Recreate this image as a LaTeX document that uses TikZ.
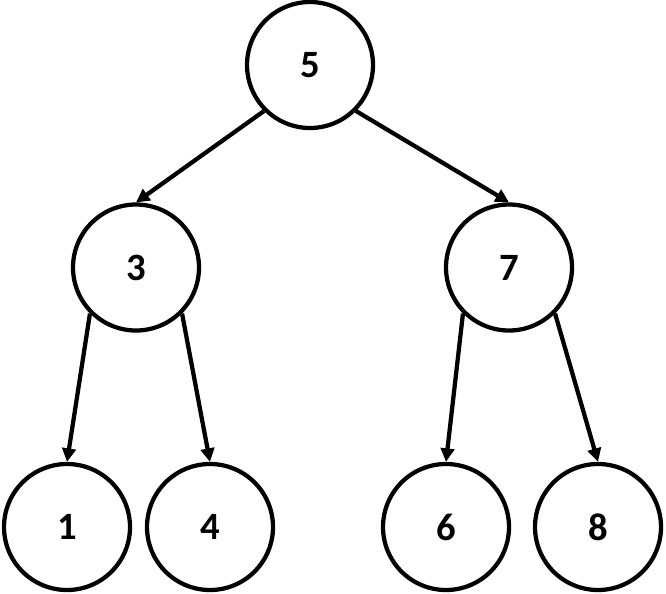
\documentclass[tikz,border=0pt]{standalone}
\usepackage{fontspec}
\setmainfont{Carlito}
\usepackage{tikz}
\usetikzlibrary{arrows.meta}

\begin{document}
\begin{tikzpicture}[
    treenode/.style={circle, draw=black, line width=0.085cm, fill=white, minimum size=2.52cm, inner sep=0pt, font=\fontsize{22}{26}\selectfont\bfseries},
    arrow/.style={-{Triangle[length=0.27cm, width=0.27cm]}, line width=0.085cm, draw=black}
]
\useasboundingbox (0,0) rectangle (13.32,-11.86);

% Root
\node[treenode] (n5) at (6.2,-1.3) {5};

% Second level
\node[treenode] (n3) at (2.72,-5.35) {3};
\node[treenode] (n7) at (10.18,-5.35) {7};

% Leaves
\node[treenode] (n1) at (1.34,-10.54) {1};
\node[treenode] (n4) at (4.2,-10.54) {4};
\node[treenode] (n6) at (8.92,-10.54) {6};
\node[treenode] (n8) at (11.96,-10.54) {8};

% Connect root
\draw[arrow] (n5.south west) -- (n3.north);
\draw[arrow] (n5.south east) -- (n7.north);

% Connect second level
\draw[arrow] (n3.south west) -- (n1.north);
\draw[arrow] (n3.south east) -- (n4.north);
\draw[arrow] (n7.south west) -- (n6.north);
\draw[arrow] (n7.south east) -- (n8.north);

\end{tikzpicture}
\end{document}
